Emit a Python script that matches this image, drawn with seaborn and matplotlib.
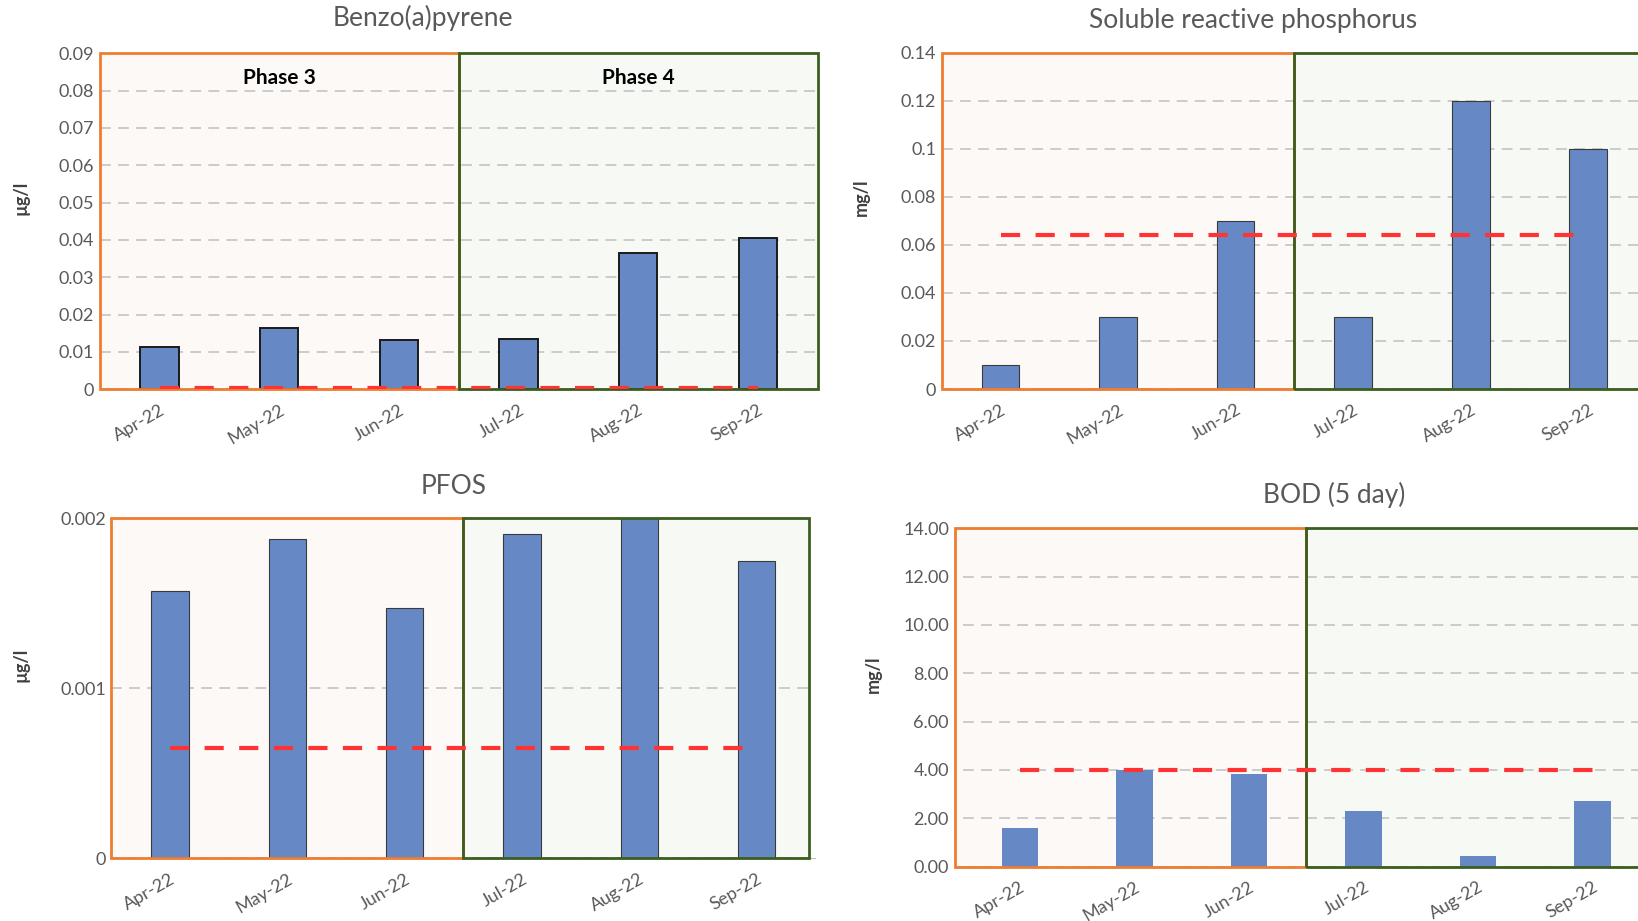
import matplotlib
matplotlib.use('Agg')
import matplotlib.pyplot as plt
import matplotlib.patches as mpatches
import numpy as np
import pandas as pd
import seaborn as sns

# Data
months = ['Apr-22', 'May-22', 'Jun-22', 'Jul-22', 'Aug-22', 'Sep-22']

bap = [0.0114, 0.0165, 0.0131, 0.0136, 0.0366, 0.0406]
bap_limit = 0.0003

srp = [0.01, 0.03, 0.07, 0.03, 0.12, 0.10]
srp_limit = 0.064

pfos = [0.00157, 0.00188, 0.00147, 0.00191, 0.00200, 0.00175]
pfos_limit = 0.00065

bod = [1.58, 4.0, 3.83, 2.29, 0.46, 2.71]
bod_limit = 4.0

sns.set_style('white')
plt.rcParams['font.family'] = ['Lato', 'DejaVu Sans']

BAR = '#6689C6'
GREY_TXT = '#595959'

fig = plt.figure(figsize=(16.38, 9.21), dpi=100)


def draw_panel(rect, values, limit, title, ylabel, ymax, yticks, fmt,
               title_xy, ylab_x, edge, lw, phase3_start=-0.5, phase4_end=5.5,
               ypad=4, phase_labels=False):
    ax = fig.add_axes(rect)
    df = pd.DataFrame({'month': months, 'value': values})
    sns.barplot(data=df, x='month', y='value', order=months, color=BAR,
                width=0.32, edgecolor=edge, linewidth=lw, saturation=1,
                ax=ax, zorder=2)

    # phase shading
    ax.add_patch(mpatches.Rectangle((phase3_start, 0), 2.5 - phase3_start, ymax,
                                    facecolor='#FDF9F6', edgecolor='none', zorder=0.1,
                                    clip_on=False))
    ax.add_patch(mpatches.Rectangle((2.5, 0), phase4_end - 2.5, ymax,
                                    facecolor='#F7F9F4', edgecolor='none', zorder=0.1))
    ax.add_patch(mpatches.Rectangle((phase3_start, 0), 2.5 - phase3_start, ymax,
                                    facecolor='none', edgecolor='#ED7D31', lw=2,
                                    zorder=2.5, clip_on=False))
    ax.add_patch(mpatches.Rectangle((2.5, 0), phase4_end - 2.5, ymax, facecolor='none',
                                    edgecolor='#3B5E1E', lw=2, zorder=2.6, clip_on=False))

    # limit line
    ax.plot([0, len(months) - 1], [limit, limit], color='#FF3333', lw=3.0,
            dashes=(4.6, 3.7), zorder=4, solid_capstyle='butt')

    ax.set_xlim(-0.5, 5.5)
    ax.set_ylim(0, ymax)
    ax.set_yticks(yticks)
    ax.set_yticklabels([fmt(v) for v in yticks], color=GREY_TXT, fontsize=13)
    ax.set_xticks(range(len(months)))
    ax.set_xticklabels(months, rotation=30, ha='right', rotation_mode='anchor',
                       color=GREY_TXT, fontsize=13)
    ax.set_xticks(np.arange(-0.5, 6), minor=True)
    ax.tick_params(axis='x', which='major', length=0, pad=9)
    ax.tick_params(axis='x', which='minor', length=6, color='#BFBFBF', width=1)
    ax.tick_params(axis='y', length=0, pad=ypad)

    ax.set_axisbelow(True)
    ax.yaxis.grid(True, color='#C8C8C8', lw=1.3, linestyle=(0, (6, 4)))
    ax.xaxis.grid(False)
    for s in ['top', 'right', 'left']:
        ax.spines[s].set_visible(False)
    ax.spines['bottom'].set_color('#BFBFBF')
    ax.spines['bottom'].set_zorder(1)
    ax.patch.set_alpha(0)

    ax.set_xlabel('')
    ax.set_ylabel(ylabel, fontsize=13, fontweight='bold', color='#404040')
    ax.yaxis.set_label_coords(ylab_x, 0.57)
    ax.text(title_xy[0], title_xy[1], title, transform=ax.transAxes,
            ha='center', va='center', fontsize=19, color=GREY_TXT)

    if phase_labels:
        ax.text(1, ymax * 0.928, 'Phase 3', ha='center', va='center',
                fontsize=15, fontweight='bold', color='black')
        ax.text(4, ymax * 0.928, 'Phase 4', ha='center', va='center',
                fontsize=15, fontweight='bold', color='black')
    return ax


g = lambda v: '{:g}'.format(v)

draw_panel([0.0609, 0.5773, 0.4384, 0.3648], bap, bap_limit, 'Benzo(a)pyrene', 'µg/l',
           0.09, np.round(np.arange(0, 0.091, 0.01), 2), g,
           (0.45, 1.106), -0.098, '#1a1a1a', 1.4, phase_labels=True)

draw_panel([0.575, 0.5776, 0.4305, 0.3652], srp, srp_limit, 'Soluble reactive phosphorus', 'mg/l',
           0.14, np.round(np.arange(0, 0.141, 0.02), 2), g,
           (0.442, 1.095), -0.102, '#3a3a3a', 0.8)

draw_panel([0.068, 0.0681, 0.4297, 0.3691], pfos, pfos_limit, 'PFOS', 'µg/l',
           0.002, [0, 0.001, 0.002], g,
           (0.486, 1.093), -0.116, '#3a3a3a', 0.8, phase4_end=5.45)

draw_panel([0.5878, 0.059, 0.4195, 0.3674], bod, bod_limit, 'BOD (5 day)', 'mg/l',
           14, np.arange(0, 14.1, 2), lambda v: '{:.2f}'.format(v),
           (0.541, 1.098), -0.118, 'none', 0, phase3_start=-0.57, ypad=10)

fig.savefig('out.png', dpi=100)
